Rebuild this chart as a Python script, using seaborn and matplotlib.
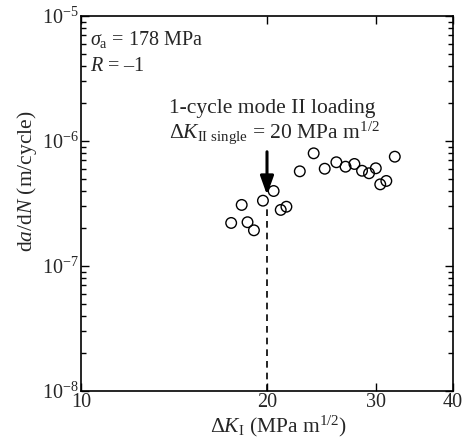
import numpy as np
import pandas as pd
import matplotlib
matplotlib.use("Agg")
import matplotlib.pyplot as plt
import matplotlib.ticker as mticker
import seaborn as sns

# crack growth data
delta_k = [17.5, 18.2, 18.6, 19.05, 19.7, 20.5, 21.05, 21.5, 22.6, 23.8,
           24.8, 25.9, 26.8, 27.7, 28.5, 29.25, 30.0, 30.5, 31.2, 32.2]
dadn = [2.21e-7, 3.08e-7, 2.24e-7, 1.93e-7, 3.33e-7, 3.98e-7, 2.81e-7, 2.98e-7,
        5.72e-7, 7.97e-7, 6.0e-7, 6.76e-7, 6.23e-7, 6.55e-7, 5.78e-7, 5.52e-7,
        6.05e-7, 4.5e-7, 4.79e-7, 7.49e-7]

x_ticks = [10, 20, 30, 40]
k_single = 20
dash_top = 2.9e-7
arrow_tip = 3.7e-7
arrow_tail = 8.2e-7

sns.set_style("ticks")
plt.rcParams["font.family"] = ["Liberation Serif", "DejaVu Serif"]
plt.rcParams["mathtext.fontset"] = "custom"
plt.rcParams["mathtext.rm"] = "Liberation Serif"
plt.rcParams["mathtext.it"] = "Liberation Serif:italic"
plt.rcParams["mathtext.bf"] = "Liberation Serif:bold"

df = pd.DataFrame({"dk": delta_k, "dadn": dadn})

fig = plt.figure(figsize=(4.64, 4.45), dpi=100)
ax = fig.add_axes([81 / 464, 54 / 445, 372 / 464, 375 / 445])

sns.scatterplot(data=df, x="dk", y="dadn", ax=ax, marker="o", s=58,
                facecolors="none", edgecolors="black", linewidth=1.0, zorder=3)

ax.set_xscale("log")
ax.set_yscale("log")
ax.set_xlim(10, 40)
ax.set_ylim(1e-8, 1e-5)

ax.xaxis.set_major_locator(mticker.FixedLocator(x_ticks))
ax.xaxis.set_major_formatter(mticker.FixedFormatter([str(t) for t in x_ticks]))
ax.xaxis.set_minor_locator(mticker.NullLocator())
ax.yaxis.set_minor_locator(mticker.LogLocator(base=10, subs=np.arange(2, 10)))
ax.yaxis.set_minor_formatter(mticker.NullFormatter())

ax.tick_params(which="both", direction="in", top=True, right=True,
               labelsize=14.5, width=1.0, color="black")
ax.tick_params(which="major", length=6, pad=1.5)
ax.tick_params(which="minor", length=3.5)
for sp in ax.spines.values():
    sp.set_linewidth(1.2)
    sp.set_color("black")

ax.set_xlabel(r"$\Delta K_{\rm I}$ (MPa m$^{1/2}$)", fontsize=15.5, labelpad=1)
ax.set_ylabel(r"d$a$/d$N$ (m/cycle)", fontsize=15.5, labelpad=2)
ax.xaxis.label.set_x(0.53)
ax.yaxis.label.set_y(0.56)

# dashed line and arrow marking the single mode II overload
ax.plot([k_single, k_single], [1e-8, dash_top], color="black",
        linestyle=(0, (4, 3)), linewidth=1.2)
ax.annotate("", xy=(k_single, arrow_tip), xytext=(k_single, arrow_tail),
            arrowprops=dict(arrowstyle="-|>,head_length=0.7,head_width=0.25",
                            color="black", lw=2.2, mutation_scale=16,
                            shrinkA=0, shrinkB=0))

ax.text(0.024, 0.923, r"$\sigma_{\rm a}$ = 178 MPa", transform=ax.transAxes,
        fontsize=14.5, va="baseline")
ax.text(0.024, 0.854, "$R$ = \u20131", transform=ax.transAxes,
        fontsize=14.5, va="baseline")
ax.text(0.237, 0.741, "1-cycle mode II loading", transform=ax.transAxes,
        fontsize=15.5, va="baseline")
ax.text(0.237, 0.675, r"$\Delta K_{\rm II\ single}$ = 20 MPa m$^{1/2}$",
        transform=ax.transAxes, fontsize=15.5, va="baseline")

fig.savefig("out.png", dpi=100)
